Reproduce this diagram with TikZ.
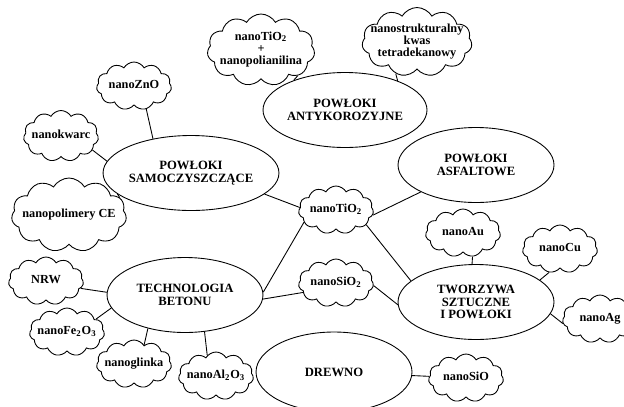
\documentclass[tikz,border=0pt]{standalone}
\usepackage{fontspec}
\setmainfont{Liberation Serif}
\usetikzlibrary{shapes.geometric,shapes.symbols}

% tekst w chmurce nie poszerza chmurki
\newcommand{\napis}[1]{\makebox[0pt]{\begin{tabular}{@{}c@{}}#1\end{tabular}}}

\begin{document}
\begin{tikzpicture}[x=0.02cm, y=-0.02cm, line width=0.5pt,
    obszar/.style={draw, ellipse, minimum width=3.12cm, minimum height=1.5cm,
        inner sep=0pt, align=center, font=\bfseries\fontsize{7.2}{7}\selectfont},
    chmurka/.style={draw, cloud, cloud puffs=11, cloud puff arc=120, cloud ignores aspect,
        minimum width=1.5cm, minimum height=0.96cm, inner sep=0pt,
        font=\bfseries\fontsize{7}{7}\selectfont},
    duza/.style={chmurka, minimum width=2.15cm, minimum height=1.44cm}]
    \useasboundingbox (0,0) rectangle (624,406);

    % Obszary zastosowan
    \node[obszar] (anty) at (345,110) {POWŁOKI\\ANTYKOROZYJNE};
    \node[obszar] (samo) at (191,173) {POWŁOKI\\SAMOCZYSZCZĄCE};
    \node[obszar] (asf)  at (476,165) {POWŁOKI\\ASFALTOWE};
    \node[obszar] (bet)  at (185,295) {TECHNOLOGIA\\BETONU};
    \node[obszar] (tw)   at (476,302) {TWORZYWA\\SZTUCZNE\\I POWŁOKI};
    \node[obszar, minimum height=1.6cm] (drw) at (334,372) {DREWNO};

    % Nanomaterialy
    \node[duza] (tp)  at (261,50)  {\napis{nanoTiO\textsubscript{2}\\+\\nanopolianilina}};
    \node[duza, minimum width=2.2cm, minimum height=1.38cm] (nk)  at (417,42)  {\napis{nanostrukturalny\\kwas\\tetradekanowy}};
    \node[duza, minimum width=2.3cm, minimum height=1.48cm] (pol) at (69,215) {\napis{nanopolimery CE}};
    \node[chmurka] (zno)   at (134,86)  {\napis{nanoZnO}};
    \node[chmurka, minimum height=1.02cm] (kwarc) at (61,136)  {\napis{nanokwarc}};
    \node[chmurka] (tio)   at (336,210) {\napis{nanoTiO\textsubscript{2}}};
    \node[chmurka] (sio)   at (336,283) {\napis{nanoSiO\textsubscript{2}}};
    \node[chmurka] (nrw)   at (46,281)  {\napis{NRW}};
    \node[chmurka] (fe)    at (67,332)  {\napis{nanoFe\textsubscript{2}O\textsubscript{3}}};
    \node[chmurka] (gl)    at (134,364) {\napis{nanoglinka}};
    \node[chmurka] (al)    at (216,376) {\napis{nanoAl\textsubscript{2}O\textsubscript{3}}};
    \node[chmurka] (au)    at (463,233) {\napis{nanoAu}};
    \node[chmurka] (cu)    at (560,249) {\napis{nanoCu}};
    \node[chmurka] (ag)    at (600,319) {\napis{nanoAg}};
    \node[chmurka] (sio1)  at (466,378) {\napis{nanoSiO}};

    % Powiazania
    \draw (tp.-35) -- (anty.150);
    \draw (nk.236) -- (anty.29);
    \draw (zno.-62) -- (samo.138);
    \draw (kwarc.-24) -- (samo.172);
    \draw (pol.19) -- (samo.196);
    \draw (samo.-16) -- (tio.176);
    \draw (tio.-8) -- (asf.206);
    \draw (tio.201) -- (bet.2);
    \draw (sio.196) -- (bet.-3);
    \draw (tio.-26) -- (tw.162);
    \draw (sio.-4) -- (tw.182);
    \draw (nrw.-12) -- (bet.178);
    \draw (fe.24) -- (bet.190);
    \draw (gl.62) -- (bet.222);
    \draw (al.113) -- (bet.-62);
    \draw (au.-68) -- (tw.96);
    \draw (cu.245) -- (tw.19);
    \draw (tw.-9) -- (ag.187);
    \draw (drw) -- (sio1);
\end{tikzpicture}
\end{document}
